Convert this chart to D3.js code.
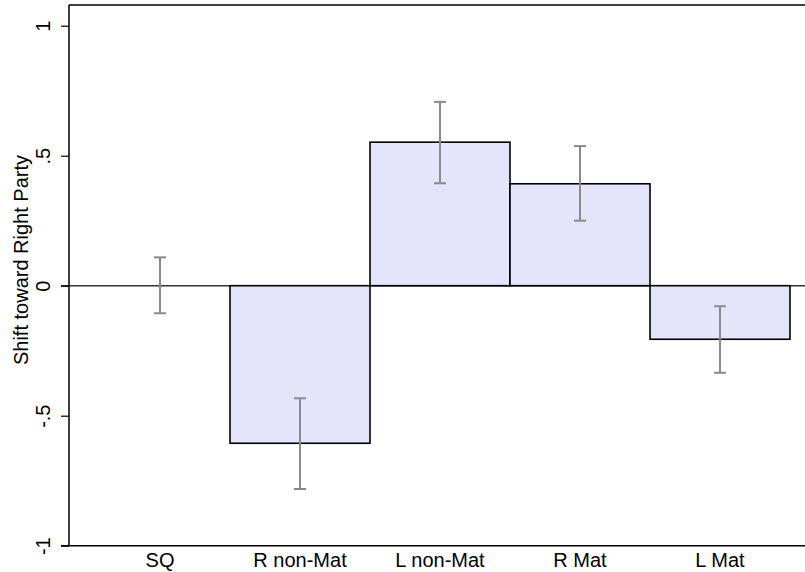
<!DOCTYPE html>
<html>
<head>
<meta charset="utf-8">
<script src="https://cdn.jsdelivr.net/npm/d3@7"></script>
<style>
  html, body { margin: 0; padding: 0; background: #fff; }
  svg { display: block; font-family: "Liberation Sans", Arial, Helvetica, sans-serif; }
</style>
</head>
<body>
<svg id="chart" width="805" height="572"></svg>
<script>
const categories = ["SQ", "R non-Mat", "L non-Mat", "R Mat", "L Mat"];
const means = [0, -0.606, 0.552, 0.392, -0.206];
const ciLow = [-0.106, -0.782, 0.394, 0.250, -0.335];
const ciHigh = [0.109, -0.433, 0.707, 0.537, -0.079];
const yTicks = [-1, -0.5, 0, 0.5, 1];
const yTickLabels = ["-1", "-.5", "0", ".5", "1"];
const yTitle = "Shift toward Right Party";

const svg = d3.select("#chart");
const plotLeft = 69, plotRight = 805, plotTop = 5;
const fontSize = 20;

const y = d3.scaleLinear().domain([-1, 1]).range([545.7, 25.7]);
const x = d3.scaleBand().domain(categories).range([90, 790]).padding(0);

// frame (top)
svg.append("line").attr("x1", plotLeft).attr("x2", plotRight)
  .attr("y1", plotTop).attr("y2", plotTop)
  .attr("stroke", "#000").attr("stroke-width", 1.5);

// zero line
svg.append("line").attr("x1", 61).attr("x2", plotRight)
  .attr("y1", y(0)).attr("y2", y(0))
  .attr("stroke", "#333").attr("stroke-width", 1.6);

// bars
svg.append("g").selectAll("rect").data(categories).join("rect")
  .attr("x", d => x(d))
  .attr("width", x.bandwidth())
  .attr("y", (d, i) => y(Math.max(0, means[i])))
  .attr("height", (d, i) => Math.abs(y(means[i]) - y(0)))
  .attr("fill", "#e4e4fb")
  .attr("stroke", (d, i) => means[i] === 0 ? "none" : "#000")
  .attr("stroke-width", 1.6);

// error bars
const eb = svg.append("g").attr("stroke", "#8a8a8a").attr("stroke-width", 2);
categories.forEach((c, i) => {
  const cx = x(c) + x.bandwidth() / 2;
  eb.append("line").attr("x1", cx).attr("x2", cx)
    .attr("y1", y(ciLow[i])).attr("y2", y(ciHigh[i]));
  [ciLow[i], ciHigh[i]].forEach(v => {
    eb.append("line").attr("x1", cx - 6).attr("x2", cx + 6)
      .attr("y1", y(v)).attr("y2", y(v));
  });
});

// y axis
const yAxis = d3.axisLeft(y).tickValues(yTicks)
  .tickFormat((d, i) => yTickLabels[i]).tickSize(8).tickSizeOuter(0).tickPadding(0);
const gy = svg.append("g").attr("transform", `translate(${plotLeft},0)`).call(yAxis);
gy.attr("font-size", fontSize);
gy.select(".domain").attr("stroke", "#000").attr("stroke-width", 1.5)
  .attr("d", `M0,${plotTop}V${y(-1)}`);
gy.selectAll(".tick line").attr("stroke", "#000").attr("stroke-width", 1.2);
gy.selectAll(".tick text")
  .attr("x", 0).attr("y", 0).attr("dy", 0)
  .attr("transform", "translate(-19,0) rotate(-90)")
  .attr("text-anchor", "middle")
  .attr("font-size", fontSize).attr("fill", "#000");

// x axis
const xAxis = d3.axisBottom(x).tickSize(0).tickPadding(0);
const gx = svg.append("g").attr("transform", `translate(0,${y(-1)})`).call(xAxis);
gx.attr("font-size", fontSize);
gx.select(".domain").attr("stroke", "#000").attr("stroke-width", 1.5)
  .attr("d", `M61,0H${plotRight}`);
gx.selectAll(".tick text").attr("y", 21).attr("dy", 0)
  .attr("font-size", fontSize).attr("fill", "#000");

// y title
svg.append("text")
  .attr("transform", `translate(28,260) rotate(-90)`)
  .attr("text-anchor", "middle")
  .attr("font-size", fontSize)
  .attr("fill", "#000")
  .text(yTitle);
</script>
</body>
</html>
